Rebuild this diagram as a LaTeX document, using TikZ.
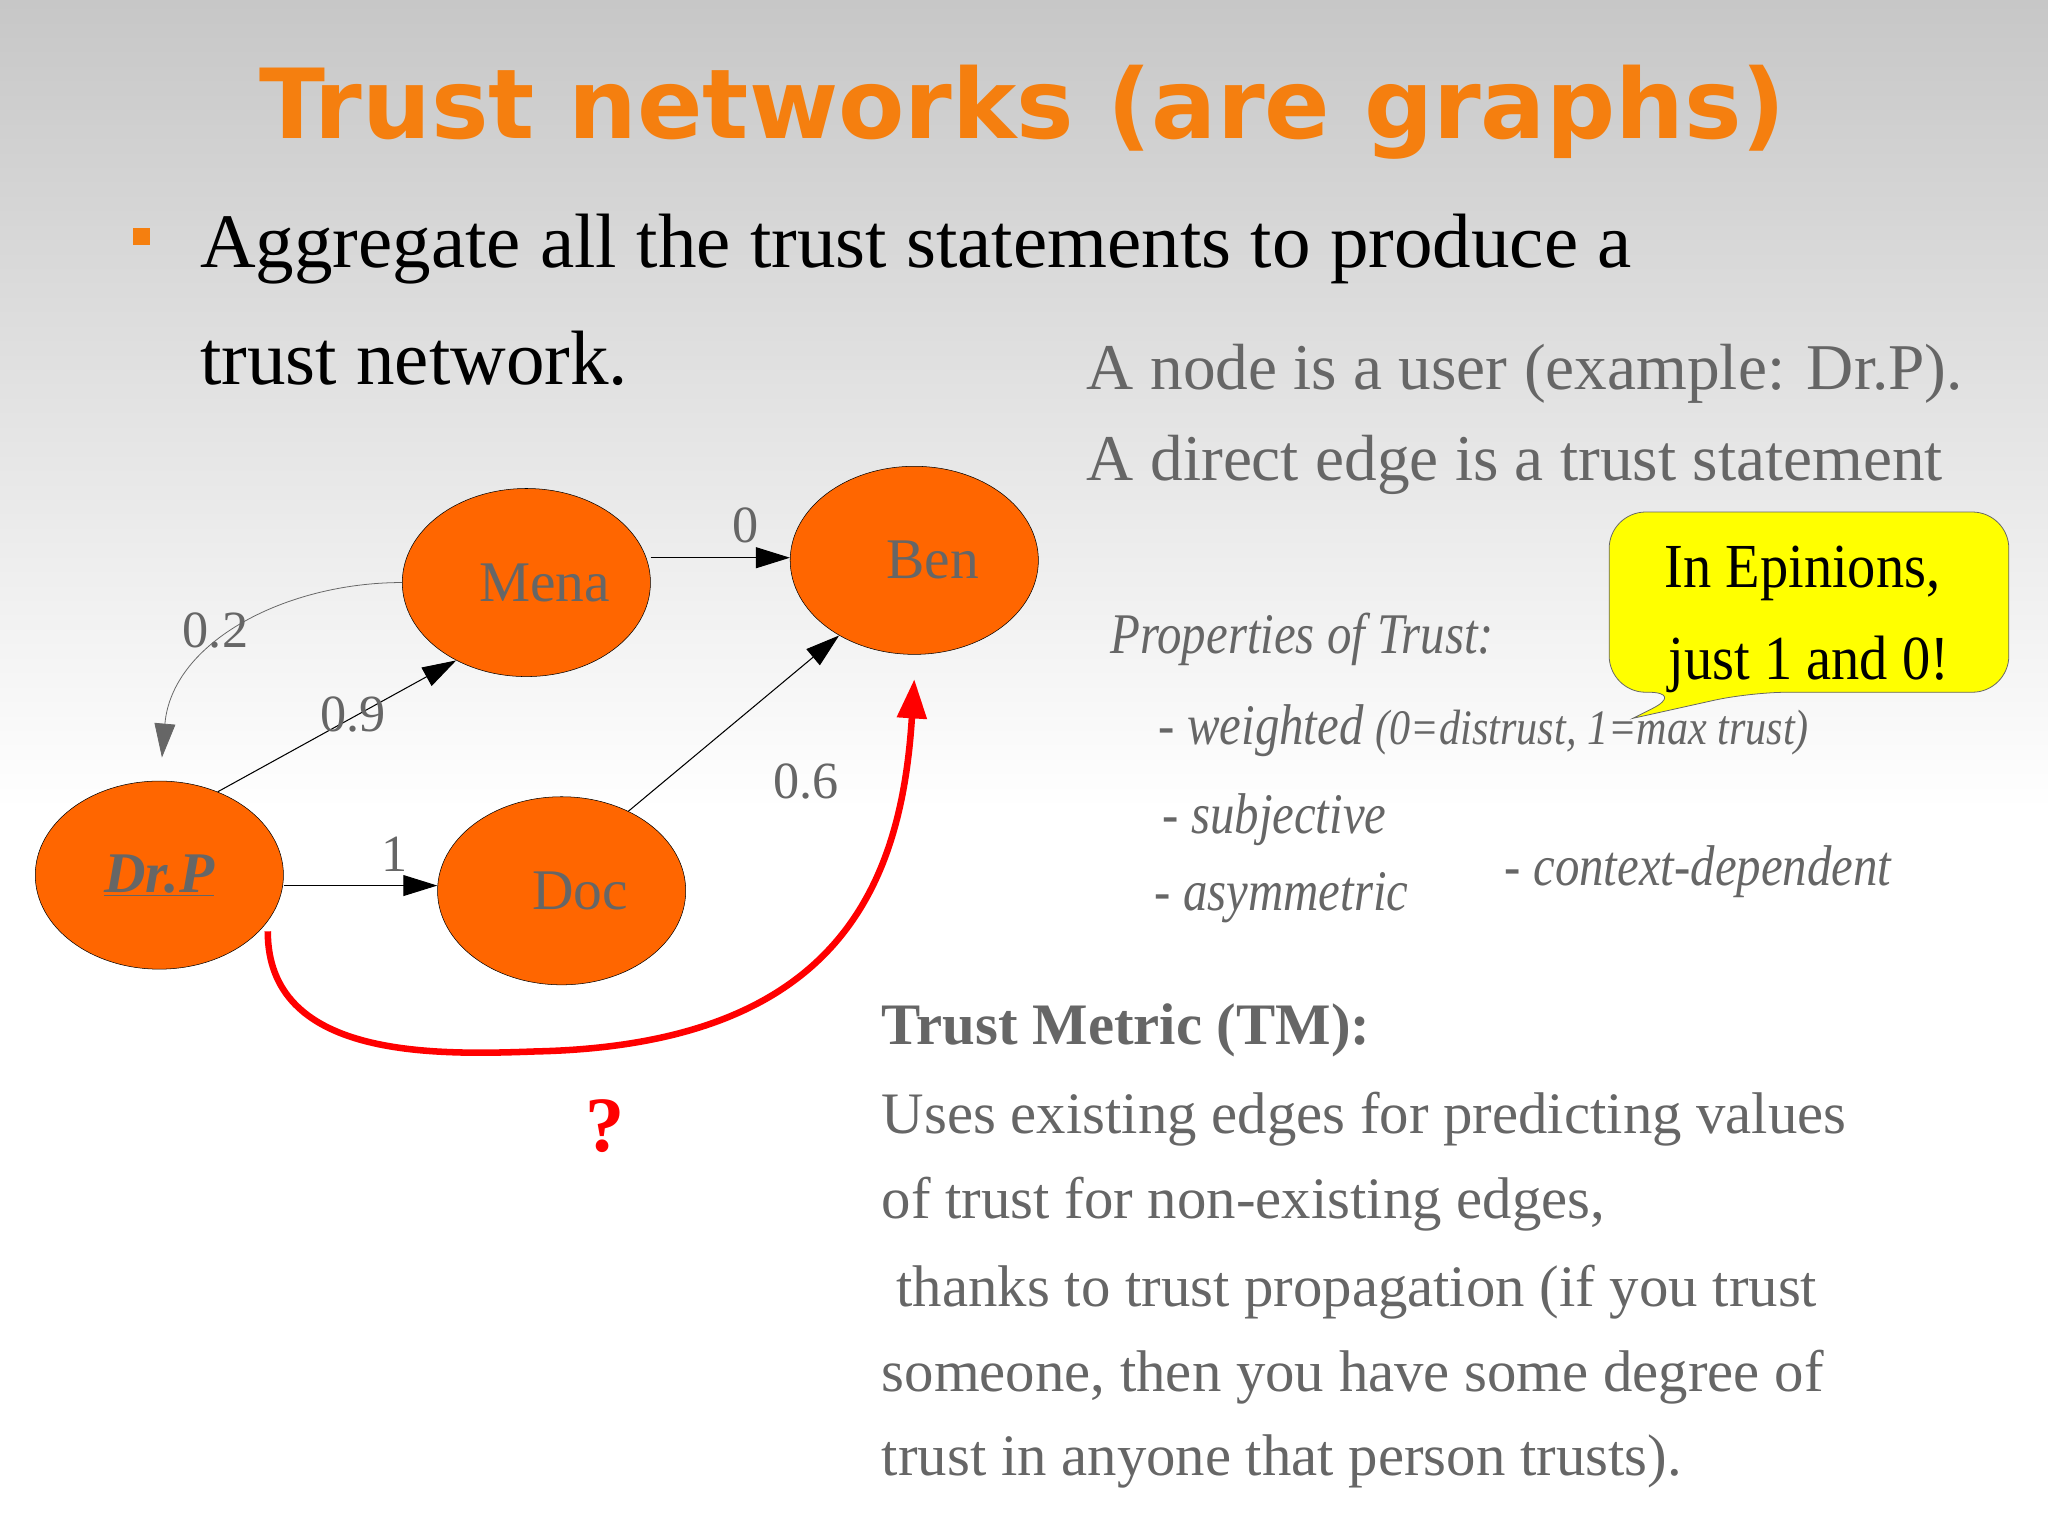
\documentclass[tikz,border=0pt]{standalone}
\usepackage{fontspec}
\setmainfont{Liberation Serif}
\newfontfamily\titlefont{DejaVu Sans}
\usetikzlibrary{arrows.meta}
\definecolor{nodeor}{HTML}{FF6600}
\definecolor{titleor}{HTML}{F57F0F}
\definecolor{txtgray}{HTML}{666666}
\definecolor{callyel}{HTML}{FFFF00}
\begin{document}
\begin{tikzpicture}[x=1pt,y=-1pt,
  usr/.style={ellipse,draw=black,fill=nodeor,minimum width=190pt,minimum height=144pt,inner sep=0pt,
     font=\fontsize{44}{50}\selectfont,text=txtgray},
  edg/.style={-{Triangle[length=26pt,width=16pt]},black,line width=0.8pt},
  elab/.style={font=\fontsize{40}{46}\selectfont,text=txtgray},
  gtxt/.style={anchor=base west,inner sep=0pt,text=txtgray},
  prop/.style={anchor=base west,inner sep=0pt,text=txtgray,xscale=0.85,font=\fontsize{44}{50}\selectfont\itshape}]
\usetikzlibrary{shapes.geometric}
\useasboundingbox (0,0) rectangle (1568,1175);
\shade[top color=black!22,bottom color=white] (0,0) rectangle (1568,620);
\fill[white] (0,620) rectangle (1568,1175);
\node[anchor=base,inner sep=0pt,text=titleor,font=\titlefont\bfseries\fontsize{74}{80}\selectfont] (title) at (783,106) {Trust networks (are graphs)};
\node[fill=titleor,minimum size=13pt,inner sep=0pt] (bul) at (108,181) {};
\node[anchor=base west,inner sep=0pt,font=\fontsize{59}{64}\selectfont] (b1) at (153,205) {Aggregate all the trust statements to produce a};
\node[anchor=base west,inner sep=0pt,font=\fontsize{59}{64}\selectfont] (b2) at (153,294) {trust network.};
\node[gtxt,font=\fontsize{50}{56}\selectfont] (n1) at (832,298) {A node is a user (example: Dr.P).};
\node[gtxt,font=\fontsize{50}{56}\selectfont] (n2) at (832,368) {A direct edge is a trust statement};
% graph
\node[usr] (mena) at (403,446) {\raisebox{-4pt}{\hspace{28pt}Mena}};
\node[usr] (ben) at (700,429) {\hspace{28pt}Ben};
\node[usr] (drp) at (122,670) {\textbf{\textit{\underline{Dr.P}}}\hspace{14pt}};
\node[usr] (doc) at (430,682) {\raisebox{-10pt}{\hspace{28pt}Doc}};
\draw[edg] (mena.east) ++(0,-19) coordinate (m0) -- (ben.west |- m0);
\node[elab] (l0) at (571,402) {0};
\draw[-{Triangle[length=26pt,width=16pt]},black!60,line width=0.6pt] (mena.west) to[out=180,in=85] (124,580);
\node[elab] (l02) at (165,483) {0.2};
\draw[edg] (drp.55) -- (mena.228);
\node[elab] (l09) at (270,547) {0.9};
\draw[edg] (drp.east) ++(0,8) coordinate (d0) -- (doc.west |- d0);
\node[elab] (l1) at (302,654) {1};
\draw[edg] (doc.50) -- (ben.225);
\node[elab] (l06) at (617,598) {0.6};
\coordinate (rs) at (205,713);
\coordinate (re) at (700,520);
\draw[red,line width=5pt,-{Triangle[length=30pt,width=22pt]}] (rs) .. controls (205,810) and (330,808) .. (410,805) .. controls (640,800) and (690,680) .. (re);
\node[text=red,font=\fontsize{60}{66}\selectfont\bfseries] (q) at (463,862) {?};
% properties
\node[prop] (pt) at (850,500) {Properties of Trust:};
\node[prop] (p1) at (887,570) {- weighted {\fontsize{38}{44}\selectfont(0=distrust, 1=max trust)}};
\node[prop] (p2) at (890,638) {- subjective};
\node[prop] (p3) at (884,697) {- asymmetric};
\node[prop] (p4) at (1152,678) {- context-dependent};
% callout
\draw[fill=callyel,draw=black!60,line width=0.6pt,rounded corners=28pt]
  (1232,392) -- (1538,392) -- (1538,530) -- (1340,530) [sharp corners] -- (1250,550) [rounded corners=28pt] -- (1290,530) -- (1232,530) -- cycle;
\node[anchor=base,inner sep=0pt,font=\fontsize{48}{54}\selectfont,xscale=0.9] (c1) at (1380,450) {In Epinions,};
\node[anchor=base,inner sep=0pt,font=\fontsize{48}{54}\selectfont,xscale=0.9] (c2) at (1385,520) {just 1 and 0!};
% trust metric
\node[gtxt,font=\fontsize{45}{50}\selectfont\bfseries] (tm) at (675,800) {Trust Metric (TM):};
\node[gtxt,font=\fontsize{45}{50}\selectfont] (t1) at (675,868) {Uses existing edges for predicting values};
\node[gtxt,font=\fontsize{45}{50}\selectfont] (t2) at (675,933) {of trust for non-existing edges,};
\node[gtxt,font=\fontsize{45}{50}\selectfont] (t3) at (675,1000) {\ thanks to trust propagation (if you trust};
\node[gtxt,font=\fontsize{45}{50}\selectfont] (t4) at (675,1065) {someone, then you have some degree of};
\node[gtxt,font=\fontsize{45}{50}\selectfont] (t5) at (675,1130) {trust in anyone that person trusts).};
\end{tikzpicture}
\end{document}
